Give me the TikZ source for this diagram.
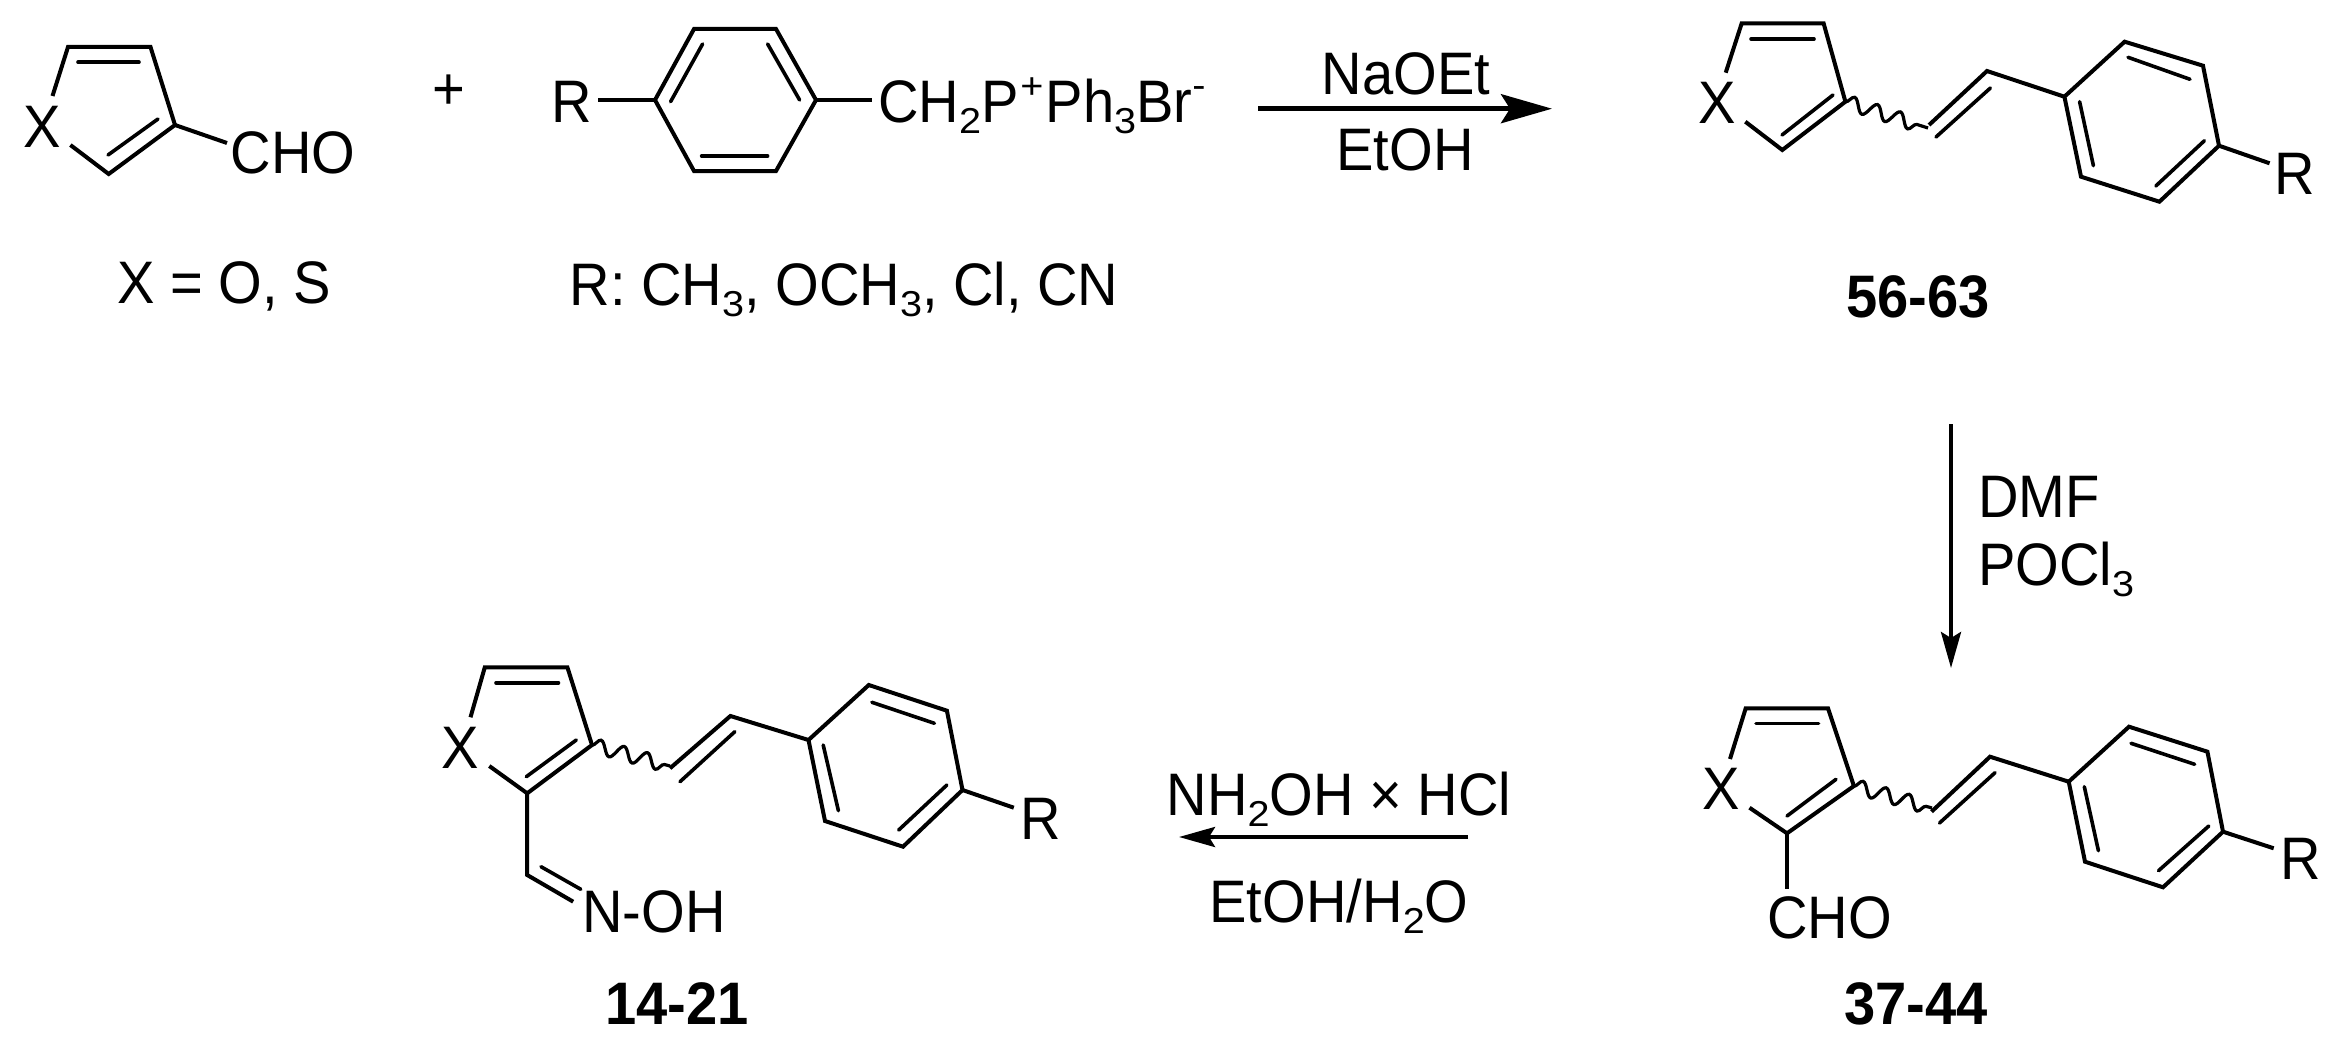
\documentclass[tikz,border=0pt]{standalone}
\usepackage{fontspec}
\setmainfont[FakeStretch=0.935]{Liberation Sans}
\newfontfamily\subfam[FakeStretch=1.1]{Liberation Sans}
\usetikzlibrary{arrows.meta,decorations.pathmorphing}
\newcommand{\sbs}[1]{\raisebox{-11pt}{\subfam\fontsize{36}{38}\selectfont #1}}
\newcommand{\sps}[2]{\raisebox{#1}{\subfam\fontsize{36}{38}\selectfont #2}}
\tikzset{
  txt/.style={font=\fontsize{60}{64}\selectfont, inner sep=0pt, outer sep=0pt, anchor=base, text=black},
  cpd/.style={txt, font=\fontsize{60}{64}\selectfont\bfseries},
  bond/.style={draw=black, line width=4pt, line join=miter, line cap=butt},
  inner/.style={draw=black, line width=3.6pt, line cap=round},
  wavy/.style={draw=black, line width=3.2pt, decorate, decoration={snake, segment length=24pt, amplitude=7pt}},
  bigarrow/.style={draw=black, line width=4.6pt, -{Stealth[length=51pt, width=29pt, inset=9pt]}},
  smallarrow/.style={draw=black, line width=4pt, -{Stealth[length=36pt, width=20pt, inset=6pt]}}
}
\begin{document}
\begin{tikzpicture}[x=1pt,y=-1pt]
\fill[white] (0,0) rectangle (2337,1046);
\useasboundingbox (0,0) rectangle (2337,1046);

% --- starting aldehyde
\coordinate (a1) at (52.5,96); \coordinate (a2) at (68,47); \coordinate (a3) at (150.5,47);
\coordinate (a4) at (175,125); \coordinate (a5) at (108.7,174); \coordinate (a6) at (70.4,145);
\coordinate (a7) at (78,62.3); \coordinate (a8) at (139,62.3); \coordinate (a9) at (108,155); \coordinate (a10) at (158,119);
\coordinate (a11) at (227,143);
\draw[bond] (a1) -- (a2) -- (a3) -- (a4) -- (a5) -- (a6);
\draw[inner] (a7) -- (a8); \draw[inner] (a9) -- (a10);
\draw[bond] (a4) -- (a11);
\node[txt] (ax) at (42.5,147) {X};
\node[txt] (acho) at (293,174) {CHO};
\node[txt] (xeq) at (224,303) {X = O, S};
\node[txt] (plus) at (449,110) {+};

% --- phosphonium salt
\coordinate (b1) at (655,100); \coordinate (b2) at (694,29); \coordinate (b3) at (776,29);
\coordinate (b4) at (816,100); \coordinate (b5) at (776,171); \coordinate (b6) at (694,171);
\coordinate (b7) at (670.6,101.7); \coordinate (b8) at (702.6,44);
\coordinate (b9) at (799.6,100); \coordinate (b10) at (767.6,44);
\coordinate (b11) at (701.6,156); \coordinate (b12) at (767.6,156);
\coordinate (b13) at (598.4,100); \coordinate (b14) at (872,100);
\draw[bond] (b1) -- (b2) -- (b3) -- (b4) -- (b5) -- (b6) -- cycle;
\draw[inner] (b7) -- (b8); \draw[inner] (b9) -- (b10); \draw[inner] (b11) -- (b12);
\draw[bond] (b13) -- (b1); \draw[bond] (b4) -- (b14);
\node[txt] (br) at (572,123) {R};
\node[txt,anchor=base west] (bsalt) at (878,123) {CH\sbs{2}P\kern2pt\sps{24pt}{+}\kern2pt Ph\sbs{3}Br\sps{25pt}{-}};
\node[txt] (rlist) at (844,305) {R: CH\sbs{3}, OCH\sbs{3}, Cl, CN};

% --- arrow 1
\coordinate (r1s) at (1258,108.7); \coordinate (r1e) at (1552,108.7);
\draw[bigarrow] (r1s) -- (r1e);
\node[txt] (naoet) at (1406,95) {NaOEt};
\node[txt] (etoh) at (1405,171) {EtOH};

% --- product 56-63
\coordinate (c1) at (1725.7,72.7); \coordinate (c2) at (1741.7,23.3); \coordinate (c3) at (1823.6,23.3);
\coordinate (c4) at (1845.4,101.7); \coordinate (c5) at (1782.3,150); \coordinate (c6) at (1745.3,121.7);
\coordinate (c7) at (1751,39); \coordinate (c8) at (1814,39); \coordinate (c9) at (1782,135); \coordinate (c10) at (1833,95);
\coordinate (cw) at (1928,128);
\coordinate (cv1) at (1929,125); \coordinate (cv2) at (1987,71); \coordinate (cv3) at (1936,137); \coordinate (cv4) at (1990.4,88);
\coordinate (d1) at (2064.4,96.7); \coordinate (d2) at (2124.6,41.7); \coordinate (d3) at (2203,65.7);
\coordinate (d4) at (2219,145.7); \coordinate (d5) at (2159.4,201.7); \coordinate (d6) at (2081,176.7);
\coordinate (d7) at (2128,57.3); \coordinate (d8) at (2190,79.3);
\coordinate (d9) at (2079.6,101.7); \coordinate (d10) at (2093.4,165.7);
\coordinate (d11) at (2204.4,140.7); \coordinate (d12) at (2155.8,186);
\coordinate (d13) at (2269.6,163.3);
\draw[bond] (c1) -- (c2) -- (c3) -- (c4) -- (c5) -- (c6);
\draw[inner] (c7) -- (c8); \draw[inner] (c9) -- (c10);
\draw[wavy] (c4) -- (cw);
\draw[bond] (cv1) -- (cv2) -- (d1);
\draw[inner] (cv3) -- (cv4);
\draw[bond] (d1) -- (d2) -- (d3) -- (d4) -- (d5) -- (d6) -- cycle;
\draw[inner] (d7) -- (d8); \draw[inner] (d9) -- (d10); \draw[inner] (d11) -- (d12);
\draw[bond] (d4) -- (d13);
\node[txt] (cx) at (1717,124) {X};
\node[txt] (cr) at (2295,194) {R};
\node[cpd] (c56) at (1918,317) {56-63};

% --- arrow 2
\coordinate (r2s) at (1951,424); \coordinate (r2e) at (1951,668);
\draw[smallarrow] (r2s) -- (r2e);
\node[txt,anchor=base west] (dmf) at (1978,517) {DMF};
\node[txt,anchor=base west] (pocl) at (1978,585) {POCl\sbs{3}};

% --- aldehyde 37-44
\coordinate (e1) at (1730,759); \coordinate (e2) at (1745.7,708.3); \coordinate (e3) at (1828,708.3);
\coordinate (e4) at (1853.9,786); \coordinate (e5) at (1787,833.3); \coordinate (e6) at (1749.5,807.7);
\coordinate (e7) at (1756,723.3); \coordinate (e8) at (1818.6,723.3); \coordinate (e9) at (1787,816); \coordinate (e10) at (1836,779.3);
\coordinate (e11) at (1787,889);
\coordinate (ew) at (1932,808);
\coordinate (ev1) at (1931.5,811.7); \coordinate (ev2) at (1990,756.7); \coordinate (ev3) at (1939.5,823); \coordinate (ev4) at (1995,772.7);
\coordinate (f1) at (2068.7,781.7); \coordinate (f2) at (2129,726.7); \coordinate (f3) at (2207.4,751.7);
\coordinate (f4) at (2223,831.7); \coordinate (f5) at (2163,887.3); \coordinate (f6) at (2085,861.7);
\coordinate (f7) at (2131,743.3); \coordinate (f8) at (2194.7,764.3);
\coordinate (f9) at (2084.3,786.7); \coordinate (f10) at (2098.4,850.7);
\coordinate (f11) at (2208.8,826); \coordinate (f12) at (2158.5,870.7);
\coordinate (f13) at (2273.7,848.3);
\draw[bond] (e1) -- (e2) -- (e3) -- (e4) -- (e5) -- (e6);
\draw[inner] (e7) -- (e8); \draw[inner] (e9) -- (e10);
\draw[bond] (e5) -- (e11);
\draw[wavy] (e4) -- (ew);
\draw[bond] (ev1) -- (ev2) -- (f1);
\draw[inner] (ev3) -- (ev4);
\draw[bond] (f1) -- (f2) -- (f3) -- (f4) -- (f5) -- (f6) -- cycle;
\draw[inner] (f7) -- (f8); \draw[inner] (f9) -- (f10); \draw[inner] (f11) -- (f12);
\draw[bond] (f4) -- (f13);
\node[txt] (ex) at (1721,809) {X};
\node[txt] (echo) at (1829.5,938) {CHO};
\node[txt] (er) at (2301,879) {R};
\node[cpd] (c37) at (1916,1024) {37-44};

% --- arrow 3
\coordinate (r3s) at (1468,837); \coordinate (r3e) at (1179,837);
\draw[smallarrow] (r3s) -- (r3e);
\node[txt] (nh) at (1339,815) {NH\sbs{2}OH × HCl};
\node[txt] (etw) at (1339,922) {EtOH/H\sbs{2}O};

% --- oxime 14-21
\coordinate (g1) at (470.5,717.3); \coordinate (g2) at (484.8,667.3); \coordinate (g3) at (567.4,667.3);
\coordinate (g4) at (592,745); \coordinate (g5) at (527.2,793.3); \coordinate (g6) at (489.3,766);
\coordinate (g7) at (496,682.7); \coordinate (g8) at (558.5,682.7); \coordinate (g9) at (526.3,776.7); \coordinate (g10) at (576.3,740);
\coordinate (g11) at (527.2,875); \coordinate (g12) at (573.2,901.7); \coordinate (g13) at (541,866.7); \coordinate (g14) at (580.8,889.3);
\coordinate (gw) at (670,766);
\coordinate (gv1) at (670,768.3); \coordinate (gv2) at (730.4,716); \coordinate (gv3) at (680,781.7); \coordinate (gv4) at (734.8,731.7);
\coordinate (h1) at (808.5,740); \coordinate (h2) at (868.8,685); \coordinate (h3) at (946.9,710.7);
\coordinate (h4) at (962.5,790); \coordinate (h5) at (903,846.7); \coordinate (h6) at (825,821);
\coordinate (h7) at (871.9,702.3); \coordinate (h8) at (934.4,723.3);
\coordinate (h9) at (823.2,745); \coordinate (h10) at (838.4,810.7);
\coordinate (h11) at (946.9,785); \coordinate (h12) at (898.7,830);
\coordinate (h13) at (1013.8,807.7);
\draw[bond] (g1) -- (g2) -- (g3) -- (g4) -- (g5) -- (g6);
\draw[inner] (g7) -- (g8); \draw[inner] (g9) -- (g10);
\draw[bond] (g5) -- (g11) -- (g12);
\draw[inner] (g13) -- (g14);
\draw[wavy] (g4) -- (gw);
\draw[bond] (gv1) -- (gv2) -- (h1);
\draw[inner] (gv3) -- (gv4);
\draw[bond] (h1) -- (h2) -- (h3) -- (h4) -- (h5) -- (h6) -- cycle;
\draw[inner] (h7) -- (h8); \draw[inner] (h9) -- (h10); \draw[inner] (h11) -- (h12);
\draw[bond] (h4) -- (h13);
\node[txt] (gx) at (460,768) {X};
\node[txt] (gnoh) at (654,932) {N-OH};
\node[txt] (gr) at (1041,839) {R};
\node[cpd] (c14) at (677,1024) {14-21};
\end{tikzpicture}
\end{document}
